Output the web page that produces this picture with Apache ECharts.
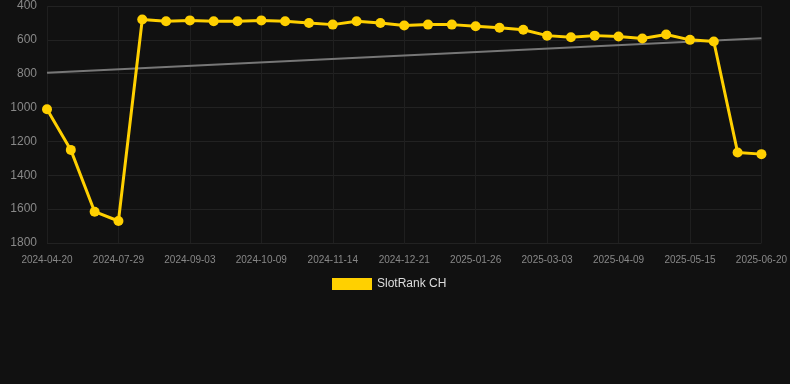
<!DOCTYPE html>
<html><head><meta charset="utf-8">
<script src="https://cdn.jsdelivr.net/npm/echarts@6/dist/echarts.min.js"></script>
<style>html,body{margin:0;padding:0;background:#111111;}#c{width:790px;height:384px;}</style>
</head><body><div id="c"></div>
<script>
const dates = ["2024-04-20","2024-05-23","2024-06-26","2024-07-29","2024-08-10","2024-08-22","2024-09-03","2024-09-15","2024-09-27","2024-10-09","2024-10-21","2024-11-02","2024-11-14","2024-11-26","2024-12-09","2024-12-21","2025-01-02","2025-01-14","2025-01-26","2025-02-07","2025-02-19","2025-03-03","2025-03-15","2025-03-28","2025-04-09","2025-04-21","2025-05-03","2025-05-15","2025-05-27","2025-06-08","2025-06-20"];
const rankValues = [1010,1250,1615,1670,480,490,485,490,490,485,490,500,510,490,500,515,510,510,520,528,540,575,585,575,580,592,568,600,610,1265,1275];
const trendValues = [795,null,null,null,null,null,null,null,null,null,null,null,null,null,null,null,null,null,null,null,null,null,null,null,null,null,null,null,null,null,590];
const seriesName = "SlotRank CH";

const chart = echarts.init(document.getElementById('c'));
chart.setOption({
  backgroundColor: '#111111',
  animation: false,
  grid: {left: 47, right: 28, top: 6, bottom: 141, containLabel: false},
  legend: {
    data: [seriesName], top: 273, left: 327,
    itemWidth: 40, itemHeight: 12, icon: 'rect',
    textStyle: {color: '#dddddd', fontSize: 12, fontFamily: 'Liberation Sans, Arial'}
  },
  xAxis: {
    type: 'category', data: dates, boundaryGap: false,
    axisLine: {show: false}, axisTick: {show: false},
    axisLabel: {interval: 2, color: '#888888', fontSize: 10, margin: 12, fontFamily: 'Liberation Sans, Arial'},
    splitLine: {show: true, interval: 2, lineStyle: {color: '#1f1f1f'}}
  },
  yAxis: {
    type: 'value', inverse: true, min: 400, max: 1800, interval: 200,
    axisLine: {show: false}, axisTick: {show: false},
    axisLabel: {color: '#888888', fontSize: 12, margin: 10, fontFamily: 'Liberation Sans, Arial', formatter: v => String(v)},
    splitLine: {lineStyle: {color: '#222222'}}
  },
  series: [
    {
      name: seriesName, type: 'line', data: rankValues,
      symbol: 'circle', symbolSize: 10,
      lineStyle: {color: '#FFD000', width: 3},
      itemStyle: {color: '#FFD000'},
      z: 3
    },
    {
      name: 'trend', type: 'line', data: trendValues, connectNulls: true,
      symbol: 'none', lineStyle: {color: '#777777', width: 2},
      z: 2, silent: true
    }
  ]
});
</script></body></html>
